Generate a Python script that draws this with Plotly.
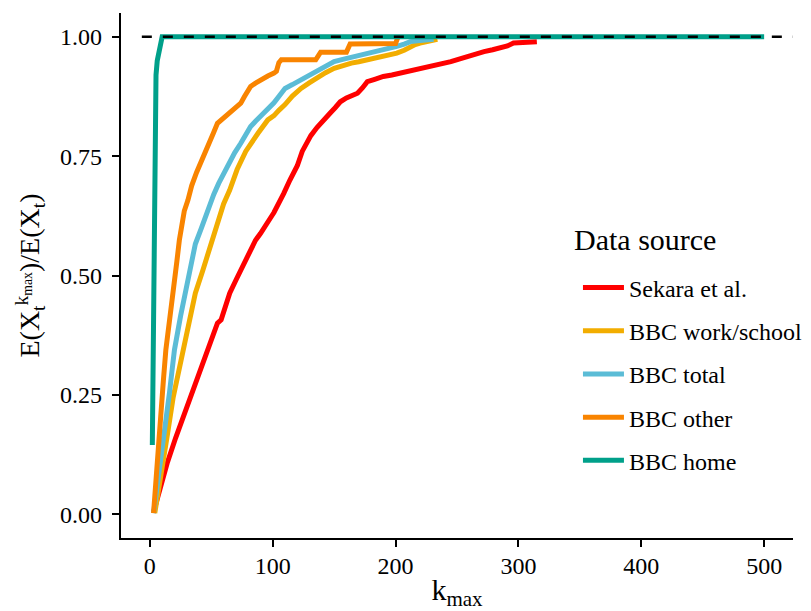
import plotly.graph_objects as go

# ---- data ----
sekara_k = [3, 8, 14, 21, 28, 34, 39, 44, 48, 52, 55, 58, 62, 65, 70, 75, 80, 86, 90, 94, 98, 101, 105, 109,
            114, 120, 124, 128, 131, 136, 140, 144, 147, 151, 155, 160, 165, 169, 173, 177, 183, 190, 197,
            204, 211, 218, 224, 231, 238, 245, 251, 258, 265, 272, 279, 285, 291, 296, 305, 315]
sekara_y = [0.004, 0.055, 0.106, 0.160, 0.211, 0.252, 0.288, 0.322, 0.356, 0.382, 0.400, 0.407, 0.438, 0.463,
            0.490, 0.518, 0.545, 0.574, 0.588, 0.602, 0.620, 0.632, 0.650, 0.672, 0.700, 0.730, 0.760, 0.782,
            0.793, 0.810, 0.820, 0.832, 0.841, 0.852, 0.864, 0.872, 0.878, 0.882, 0.893, 0.906, 0.911, 0.917,
            0.920, 0.924, 0.928, 0.931, 0.934, 0.938, 0.943, 0.948, 0.953, 0.959, 0.963, 0.969, 0.973, 0.976,
            0.981, 0.987, 0.989, 0.990]

work_k = [4, 9, 14, 19, 24, 27, 32, 37, 43, 48, 52, 55, 60, 65, 71, 78, 82, 88, 96, 101, 105, 110, 116,
          123, 130, 136, 143, 150, 157, 164, 170, 177, 184, 191, 196, 201, 207, 212, 216, 220, 227, 234]
work_y = [0.002, 0.075, 0.162, 0.245, 0.305, 0.344, 0.410, 0.463, 0.510, 0.553, 0.590, 0.615, 0.650, 0.679,
          0.722, 0.760, 0.777, 0.798, 0.826, 0.835, 0.846, 0.858, 0.876, 0.892, 0.904, 0.915, 0.925, 0.934,
          0.940, 0.945, 0.948, 0.952, 0.956, 0.959, 0.962, 0.966, 0.972, 0.980, 0.984, 0.987, 0.990, 0.995]

total_k = [3, 7, 12, 16, 18, 20, 25, 29, 33, 37, 42, 48, 52, 56, 61, 64, 69, 74, 79, 82, 86, 91, 96, 101,
           107, 110, 116, 123, 130, 136, 143, 150, 157, 164, 170, 177, 184, 191, 196, 201, 207, 212, 222, 231]
total_y = [0.002, 0.080, 0.162, 0.255, 0.300, 0.344, 0.415, 0.470, 0.515, 0.566, 0.600, 0.644, 0.670, 0.693,
           0.718, 0.733, 0.757, 0.777, 0.798, 0.812, 0.823, 0.836, 0.847, 0.862, 0.882, 0.892, 0.900, 0.910,
           0.920, 0.930, 0.940, 0.948, 0.953, 0.957, 0.961, 0.966, 0.970, 0.973, 0.976, 0.980, 0.985, 0.990,
           0.993, 0.995]

other_k = [3, 5, 8, 11, 13, 16, 19, 22, 24, 28, 31, 34, 38, 42, 46, 49, 52, 55, 60, 66, 69, 74, 77, 82, 86,
           90, 96, 101, 103, 105, 107, 115, 125, 135, 139, 150, 160, 163, 175, 190, 200, 202]
other_y = [0.002, 0.080, 0.170, 0.280, 0.344, 0.400, 0.460, 0.530, 0.574, 0.635, 0.658, 0.688, 0.716, 0.742,
           0.763, 0.782, 0.800, 0.819, 0.830, 0.840, 0.847, 0.861, 0.875, 0.896, 0.903, 0.910, 0.918, 0.924,
           0.928, 0.946, 0.952, 0.952, 0.952, 0.952, 0.968, 0.968, 0.968, 0.985, 0.985, 0.985, 0.986, 1.000]

home_k = [2, 3, 4, 5, 6, 7, 8, 9, 10, 500]
home_y = [0.145, 0.49, 0.80, 0.92, 0.95, 0.965, 0.98, 0.99, 1.00, 1.00]

series_names = ["Sekara et al.", "BBC work/school", "BBC total", "BBC other", "BBC home"]
series_k = [sekara_k, work_k, total_k, other_k, home_k]
series_y = [sekara_y, work_y, total_y, other_y, home_y]
series_colors = ["#FF0000", "#F2AD00", "#5BBCD6", "#F98400", "#00A08A"]

x_ticks = [0, 100, 200, 300, 400, 500]
y_ticks = [0.0, 0.25, 0.5, 0.75, 1.0]
y_tick_labels = ["0.00", "0.25", "0.50", "0.75", "1.00"]
reference_level = 1.0
legend_title = "Data source"

FONT = "Liberation Serif"

fig = go.Figure()
for name, k, y, c in zip(series_names, series_k, series_y, series_colors):
    fig.add_trace(go.Scatter(
        x=k, y=y, mode="lines", name=name, legendgroup=name,
        line=dict(color=c, width=5), hoverinfo="skip",
    ))

fig.add_shape(type="line", xref="paper", yref="y", x0=0.031, x1=1,
              y0=reference_level, y1=reference_level,
              line=dict(color="black", width=2.5, dash="10px,11px"), layer="above")

# legend title as a free annotation (more room between title and entries)
fig.add_annotation(text=legend_title, xref="paper", yref="paper",
                   x=0.671, y=0.569, xanchor="left", yanchor="middle",
                   showarrow=False, font=dict(size=30, family=FONT, color="black"))

# page body has an 8px margin -> figure is 803x603 so it ends at the window edge
fig.update_layout(
    width=803, height=603,
    margin=dict(l=113, r=18, t=5, b=73, autoexpand=False),
    paper_bgcolor="white", plot_bgcolor="white",
    font=dict(family=FONT, size=24, color="black"),
    showlegend=True,
    legend=dict(
        x=0.68, y=0.5191, xanchor="left", yanchor="top",
        bgcolor="rgba(0,0,0,0)", borderwidth=0,
        font=dict(size=24, family=FONT),
        itemwidth=41, tracegroupgap=9,
    ),
    xaxis=dict(
        range=[-23.5, 523.5], tickvals=x_ticks, ticks="outside", ticklen=7, tickwidth=2,
        tickcolor="black", showline=True, linecolor="black", linewidth=2.2,
        showgrid=False, zeroline=False, tickfont=dict(size=24, family=FONT),
        ticklabelstandoff=-2,
        title=dict(text="k<sub>max</sub>", font=dict(size=30, family=FONT), standoff=2),
    ),
    yaxis=dict(
        range=[-0.05, 1.05], tickvals=y_ticks, ticktext=y_tick_labels, ticks="outside",
        ticklen=7, tickwidth=2, tickcolor="black", showline=True, linecolor="black",
        linewidth=2.2, showgrid=False, zeroline=False, tickfont=dict(size=24, family=FONT),
        ticklabelstandoff=5,
        title=dict(text="E(X<sub>t</sub><sup>k<sub>max</sub></sup>)/E(X<sub>t</sub>)",
                   font=dict(size=28, family=FONT), standoff=12),
    ),
)

fig.write_html("out.html")
